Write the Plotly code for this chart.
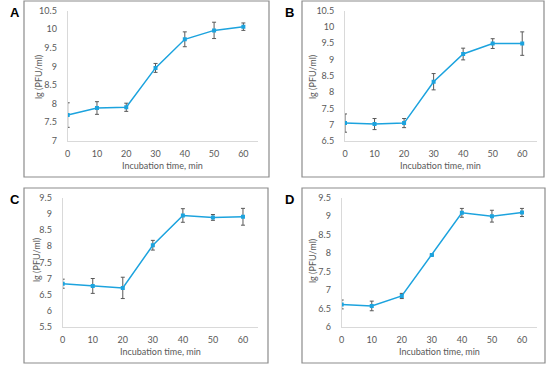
import plotly.graph_objects as go

W, H = 550, 367

time_min = [0, 10, 20, 30, 40, 50, 60]

a_vals = [7.69, 7.88, 7.90, 8.96, 9.73, 9.97, 10.07]
a_err = [0.33, 0.17, 0.11, 0.12, 0.20, 0.22, 0.10]
b_vals = [7.05, 7.02, 7.05, 8.32, 9.17, 9.49, 9.49]
b_err = [0.28, 0.17, 0.14, 0.25, 0.18, 0.15, 0.36]
c_vals = [6.84, 6.77, 6.71, 8.03, 8.95, 8.89, 8.91]
c_err = [0.14, 0.23, 0.33, 0.15, 0.21, 0.09, 0.26]
d_vals = [6.61, 6.57, 6.84, 7.95, 9.09, 9.00, 9.10]
d_err = [0.12, 0.13, 0.07, 0.02, 0.12, 0.16, 0.11]

panel_labels = ["A", "B", "C", "D"]
x_title = "Incubation time, min"
y_title = "lg (PFU/ml)"

y_ranges = [(7, 10.5), (6.5, 10.5), (5.5, 9.5), (6, 9.5)]

def px_x(v):
    return v / W

def px_y(v):
    return (H - v) / H

# plot-area pixel boxes (left, right, top, bottom)
areas = [
    (67.7, 258, 10.7, 140.7),
    (345, 537, 10.7, 141),
    (62.7, 258, 197.7, 327),
    (341.7, 537, 197.7, 327),
]
boxes = [(24, 269, 1, 177), (302, 544, 1, 177), (24, 268, 188, 363), (302, 545, 188, 363)]
label_pos = [(8, 13), (283, 13), (8, 199), (283, 199)]
xtitle_pos = [(162, 165.5), (441, 165.5), (160, 351), (439, 351)]
ytitle_pos = [(38, 77), (312, 77), (36, 260), (312, 261)]

line_color = "#1CA3DE"
tick_font = dict(family="Lato, Carlito, Liberation Sans, sans-serif", size=9, color="#595959")

fig = go.Figure()
series = [(a_vals, a_err), (b_vals, b_err), (c_vals, c_err), (d_vals, d_err)]

layout = dict(
    width=W, height=H,
    margin=dict(l=0, r=0, t=0, b=0),
    paper_bgcolor="white", plot_bgcolor="white",
    showlegend=False,
)

shapes = []
annotations = []

for i, (vals, errs) in enumerate(series):
    n = "" if i == 0 else str(i + 1)
    fig.add_trace(go.Scatter(
        x=time_min, y=vals,
        mode="lines+markers",
        line=dict(color=line_color, width=1.5),
        marker=dict(symbol="square", size=4, color=line_color),
        error_y=dict(type="data", array=errs, visible=True, color="#595959", thickness=1, width=2),
        xaxis="x" + n, yaxis="y" + n,
    ))
    l, r, t, b = areas[i]
    y0, y1 = y_ranges[i]
    ticks = []
    v = y0
    while v <= y1 + 1e-9:
        ticks.append(round(v, 1))
        v += 0.5
    ticktext = [("%g" % tv) for tv in ticks]
    layout["xaxis" + n] = dict(
        domain=[px_x(l), px_x(r)], range=[0, 65], anchor="y" + n,
        tickvals=time_min, ticktext=[str(t_) for t_ in time_min],
        showgrid=False, zeroline=False, showline=True, linecolor="#d9d9d9", linewidth=1,
        ticks="", tickfont=tick_font, ticklabelstandoff=4, automargin=False,
    )
    layout["yaxis" + n] = dict(
        domain=[px_y(b), px_y(t)], range=[y0, y1], anchor="x" + n,
        tickvals=ticks, ticktext=ticktext,
        showgrid=False, zeroline=False, showline=True, linecolor="#d9d9d9", linewidth=1,
        ticks="", tickfont=tick_font, ticklabelstandoff=8, automargin=False,
    )
    bx0, bx1, by0, by1 = boxes[i]
    shapes.append(dict(type="rect", xref="paper", yref="paper",
                       x0=px_x(bx0), x1=px_x(bx1), y0=px_y(by1), y1=px_y(by0),
                       line=dict(color="#8c8c8c", width=1.2)))
    lx, ly = label_pos[i]
    annotations.append(dict(text="<b>%s</b>" % panel_labels[i], xref="paper", yref="paper",
                            x=px_x(lx), y=px_y(ly), xanchor="left", yanchor="middle",
                            showarrow=False,
                            font=dict(family="Liberation Sans, Arial, sans-serif", size=13, color="black")))
    tx, ty = xtitle_pos[i]
    annotations.append(dict(text=x_title, xref="paper", yref="paper",
                            x=px_x(tx), y=px_y(ty), xanchor="center", yanchor="middle",
                            showarrow=False, font=tick_font))
    yx, yy = ytitle_pos[i]
    annotations.append(dict(text=y_title, xref="paper", yref="paper",
                            x=px_x(yx), y=px_y(yy), xanchor="center", yanchor="middle",
                            textangle=-90, showarrow=False, font=tick_font))

layout["shapes"] = shapes
layout["annotations"] = annotations
fig.update_layout(**layout)
fig.write_html("out.html", config={"displayModeBar": False},
               post_script="document.body.style.margin='0';document.body.style.overflow='hidden';")
